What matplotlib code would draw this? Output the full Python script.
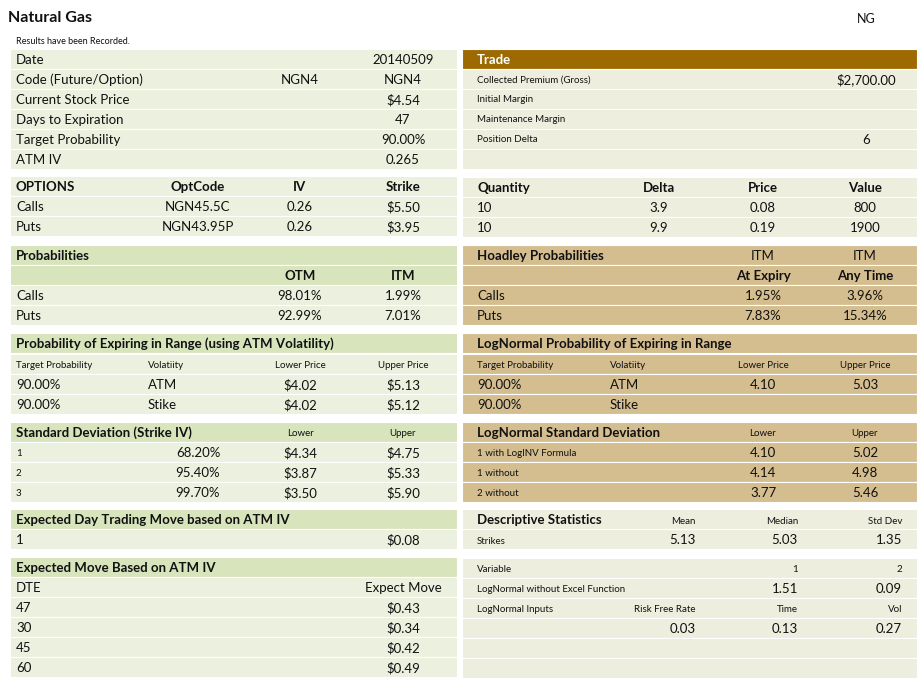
import matplotlib.pyplot as plt
from matplotlib.patches import Rectangle

plt.rcParams['font.family'] = ['Lato', 'DejaVu Sans']

GREEN = '#ebf1de'
DGREEN = '#d8e4bc'
BEIGE = '#eeeedf'
TAN = '#d4bd8f'
BROWN = '#9c6a00'

LX0, LX1 = 10, 457
RX0, RX1 = 462, 917

# ---- data (cell texts) ----
info_labels = ['Date', 'Code (Future/Option)', 'Current Stock Price', 'Days to Expiration',
               'Target Probability', 'ATM IV']
info_mid = ['', 'NGN4', '', '', '', '']
info_vals = ['20140509', 'NGN4', '$4.54', '47', '90.00%', '0.265']

opt_head = ['OPTIONS', 'OptCode', 'IV', 'Strike']
opt_rows = [['Calls', 'NGN45.5C', '0.26', '$5.50'], ['Puts', 'NGN43.95P', '0.26', '$3.95']]

prob_rows = [['Calls', '98.01%', '1.99%'], ['Puts', '92.99%', '7.01%']]

range_head = ['Target Probability', 'Volatiity', 'Lower Price', 'Upper Price']
range_rows = [['90.00%', 'ATM', '$4.02', '$5.13'], ['90.00%', 'Stike', '$4.02', '$5.12']]

sd_rows = [['1', '68.20%', '$4.34', '$4.75'], ['2', '95.40%', '$3.87', '$5.33'],
           ['3', '99.70%', '$3.50', '$5.90']]

dte = ['47', '30', '45', '60']
exp_move = ['$0.43', '$0.34', '$0.42', '$0.49']

trade_labels = ['Collected Premium (Gross)', 'Initial Margin', 'Maintenance Margin', 'Position Delta', '']
trade_vals = ['$2,700.00', '', '', '6', '']

qty_head = ['Quantity', 'Delta', 'Price', 'Value']
qty_rows = [['10', '3.9', '0.08', '800'], ['10', '9.9', '0.19', '1900']]

hoad_rows = [['Calls', '1.95%', '3.96%'], ['Puts', '7.83%', '15.34%']]

lnr_rows = [['90.00%', 'ATM', '4.10', '5.03'], ['90.00%', 'Stike', '', '']]

lnsd_rows = [['1 with LogINV Formula', '4.10', '5.02'], ['1 without', '4.14', '4.98'],
             ['2 without', '3.77', '5.46']]

desc_stats = ['5.13', '5.03', '1.35']

fig = plt.figure(figsize=(9.18, 6.79), dpi=100)
ax = fig.add_axes([0, 0, 1, 1])
ax.set_xlim(0, 918)
ax.set_ylim(679, 0)
ax.axis('off')


def band(x0, x1, yc, color, h=20):
    ax.add_patch(Rectangle((x0, yc - h / 2), x1 - x0, h, facecolor=color, edgecolor='white', lw=0.8))


def t(x, y, s, ha='left', size=9.5, bold=False, color='#111111'):
    ax.text(x, y + 1, s, ha=ha, va='center', fontsize=size,
            fontweight='bold' if bold else 'normal', color=color)


t(8, 17, 'Natural Gas', size=11.5, bold=True)
t(866, 18, 'NG', ha='center', size=9)
t(16, 40, 'Results have been Recorded.', size=6.5)

# ---- left column ----
for i, lab in enumerate(info_labels):
    y = 59 + 20 * i
    band(LX0, LX1, y, GREEN)
    t(16, y, lab)
    if info_mid[i]:
        t(300, y, info_mid[i], ha='center')
    t(403, y, info_vals[i], ha='center')

band(LX0, LX1, 186, GREEN)
for x, s in zip([16, 198, 300, 403], opt_head):
    t(x, 186, s, ha='left' if x == 16 else 'center', bold=True)
for j, r in enumerate(opt_rows):
    y = 206 + 20 * j
    band(LX0, LX1, y, GREEN)
    t(16, y, r[0]); t(198, y, r[1], ha='center'); t(300, y, r[2], ha='center'); t(403, y, r[3], ha='center')

band(LX0, LX1, 255, DGREEN); t(16, 255, 'Probabilities', bold=True)
band(LX0, LX1, 275, DGREEN); t(300, 275, 'OTM', ha='center', bold=True); t(403, 275, 'ITM', ha='center', bold=True)
for j, r in enumerate(prob_rows):
    y = 295 + 20 * j
    band(LX0, LX1, y, GREEN)
    t(16, y, r[0]); t(300, y, r[1], ha='center'); t(403, y, r[2], ha='center')

band(LX0, LX1, 343, DGREEN); t(16, 343, 'Probability of Expiring in Range (using ATM Volatility)', bold=True)
band(LX0, LX1, 364, GREEN)
for x, s in zip([16, 148, 300, 403], range_head):
    t(x, 364, s, ha='left' if x < 200 else 'center', size=7)
for j, r in enumerate(range_rows):
    y = 384 + 20 * j
    band(LX0, LX1, y, GREEN)
    t(16, y, r[0]); t(148, y, r[1]); t(300, y, r[2], ha='center'); t(403, y, r[3], ha='center')

band(LX0, LX1, 432, DGREEN); t(16, 432, 'Standard Deviation (Strike IV)', bold=True)
t(300, 432, 'Lower', ha='center', size=7); t(403, 432, 'Upper', ha='center', size=7)
for j, r in enumerate(sd_rows):
    y = 452 + 20 * j
    band(LX0, LX1, y, GREEN)
    t(16, y, r[0], size=7); t(198, y, r[1], ha='center'); t(300, y, r[2], ha='center'); t(403, y, r[3], ha='center')

band(LX0, LX1, 519, DGREEN); t(16, 519, 'Expected Day Trading Move based on ATM IV', bold=True)
band(LX0, LX1, 539, GREEN); t(16, 539, '1'); t(403, 539, '$0.08', ha='center')

band(LX0, LX1, 567, DGREEN); t(16, 567, 'Expected Move Based on ATM IV', bold=True)
band(LX0, LX1, 587, GREEN); t(16, 587, 'DTE'); t(403, 587, 'Expect Move', ha='center')
for j in range(len(dte)):
    y = 607 + 20 * j
    band(LX0, LX1, y, GREEN)
    t(16, y, dte[j]); t(403, y, exp_move[j], ha='center')

# ---- right column ----
band(RX0, RX1, 59, BROWN); t(477, 59, 'Trade', bold=True, color='white')
for i, lab in enumerate(trade_labels):
    y = 79 + 20 * i
    band(RX0, RX1, y, BEIGE)
    t(477, y, lab, size=7)
    if trade_vals[i]:
        t(866, y, trade_vals[i], ha='center')

band(RX0, RX1, 187, BEIGE)
for x, s in zip([477, 659, 763, 865], qty_head):
    t(x, 187, s, ha='left' if x == 477 else 'center', bold=True)
for j, r in enumerate(qty_rows):
    y = 207 + 20 * j
    band(RX0, RX1, y, BEIGE)
    t(477, y, r[0]); t(659, y, r[1], ha='center'); t(763, y, r[2], ha='center'); t(865, y, r[3], ha='center')

band(RX0, RX1, 255, TAN); t(477, 255, 'Hoadley Probabilities', bold=True)
t(763, 255, 'ITM', ha='center'); t(865, 255, 'ITM', ha='center')
band(RX0, RX1, 275, TAN); t(763, 275, 'At Expiry', ha='center', bold=True); t(865, 275, 'Any Time', ha='center', bold=True)
for j, r in enumerate(hoad_rows):
    y = 295 + 20 * j
    band(RX0, RX1, y, TAN)
    t(477, y, r[0]); t(763, y, r[1], ha='center'); t(865, y, r[2], ha='center')

band(RX0, RX1, 343, TAN); t(477, 343, 'LogNormal Probability of Expiring in Range', bold=True)
band(RX0, RX1, 364, TAN)
for x, s in zip([477, 610, 763, 865], range_head):
    t(x, 364, s, ha='left' if x < 700 else 'center', size=7)
for j, r in enumerate(lnr_rows):
    y = 384 + 20 * j
    band(RX0, RX1, y, TAN)
    t(477, y, r[0]); t(610, y, r[1]); t(763, y, r[2], ha='center'); t(865, y, r[3], ha='center')

band(RX0, RX1, 432, TAN); t(477, 432, 'LogNormal Standard Deviation', bold=True)
t(763, 432, 'Lower', ha='center', size=7); t(865, 432, 'Upper', ha='center', size=7)
for j, r in enumerate(lnsd_rows):
    y = 452 + 20 * j
    band(RX0, RX1, y, TAN)
    t(477, y, r[0], size=7); t(763, y, r[1], ha='center'); t(865, y, r[2], ha='center')

band(RX0, RX1, 519, BEIGE); t(477, 519, 'Descriptive Statistics', bold=True)
for x, s in zip([696, 798, 902], ['Mean', 'Median', 'Std Dev']):
    t(x, 520, s, ha='right', size=7)
band(RX0, RX1, 539, BEIGE); t(477, 540, 'Strikes', size=7)
for x, s in zip([696, 798, 902], desc_stats):
    t(x, 539, s, ha='right')

ln_rows = [('Variable', ['', '1', '2'], 7),
           ('LogNormal without Excel Function', ['', '1.51', '0.09'], 9.5),
           ('LogNormal Inputs', ['Risk Free Rate', 'Time', 'Vol'], 7),
           ('', ['0.03', '0.13', '0.27'], 9.5),
           ('', ['', '', ''], 9.5),
           ('', ['', '', ''], 9.5)]
for j, (lab, vals, sz) in enumerate(ln_rows):
    y = 568 + 20 * j
    band(RX0, RX1, y, BEIGE)
    t(477, y, lab, size=7)
    for x, s in zip([696, 798, 902], vals):
        if s:
            t(x, y, s, ha='right', size=sz)

fig.savefig('out.png', dpi=100, facecolor='white')
